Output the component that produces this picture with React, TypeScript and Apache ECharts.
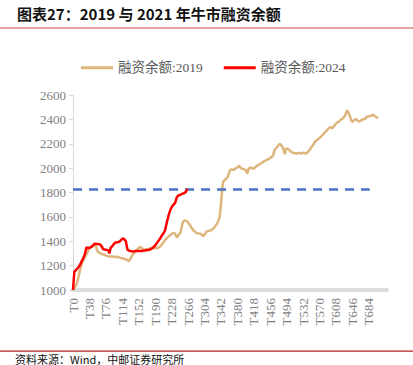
import React, { useEffect, useRef } from "react";
import * as echarts from "echarts";

const titleText = "图表27：2019 与 2021 年牛市融资余额";
const sourceText = "资料来源：Wind，中邮证券研究所";
const legendNames = ["融资余额:2019", "融资余额:2024"];

const xTickLabels = [
  "T0", "T38", "T76", "T114", "T152", "T190", "T228", "T266", "T304", "T342",
  "T380", "T418", "T456", "T494", "T532", "T570", "T608", "T646", "T684",
];
const xStep = 38;
const xMax = 726;

const yTicks = [1000, 1200, 1400, 1600, 1800, 2000, 2200, 2400, 2600];

const refLevel = 1825;
const refRange = [0, 686];

const series2019: [number, number][] = [
  [0, 1000], [4, 1020], [8, 1045], [13, 1110], [16, 1160], [19, 1200], [23, 1240],
  [28, 1270], [32, 1300], [36, 1330], [42, 1355], [47, 1365], [51, 1375], [54, 1345],
  [57, 1315], [62, 1305], [66, 1295], [72, 1290], [78, 1280], [85, 1275], [92, 1275],
  [97, 1270], [103, 1272], [108, 1265], [114, 1260], [119, 1255], [124, 1250],
  [129, 1235], [133, 1260], [137, 1285], [143, 1310], [148, 1330], [152, 1345],
  [156, 1355], [160, 1340], [166, 1330], [172, 1335], [178, 1340], [184, 1345],
  [190, 1342], [196, 1345], [201, 1355], [206, 1375], [210, 1395], [213, 1410],
  [218, 1430], [223, 1445], [228, 1460], [232, 1470], [236, 1462], [240, 1430],
  [245, 1455], [249, 1478], [252, 1530], [255, 1565], [260, 1570], [265, 1560],
  [269, 1540], [274, 1510], [278, 1490], [283, 1475], [288, 1465], [294, 1462],
  [298, 1455], [301, 1440], [305, 1460], [309, 1480], [314, 1485], [320, 1492],
  [326, 1510], [332, 1540], [336, 1565], [339, 1600], [341, 1660], [343, 1740],
  [345, 1830], [347, 1885], [351, 1905], [355, 1915], [358, 1930], [361, 1965],
  [364, 1985], [367, 1990], [371, 1985], [375, 1995], [380, 2005], [384, 2020],
  [388, 2000], [392, 1995], [396, 1990], [400, 1980], [403, 1955], [406, 1995],
  [410, 2005], [414, 2000], [418, 1995], [422, 2010], [426, 2020], [430, 2030],
  [435, 2040], [440, 2053], [444, 2060], [448, 2067], [452, 2075], [455, 2081],
  [459, 2090], [463, 2105], [466, 2150], [470, 2165], [474, 2182], [478, 2200],
  [481, 2190], [485, 2170], [488, 2130], [490, 2115], [492, 2160], [496, 2160],
  [500, 2150], [505, 2130], [510, 2125], [517, 2120], [523, 2125], [529, 2120],
  [533, 2128], [538, 2118], [544, 2135], [548, 2155], [552, 2175], [556, 2195],
  [559, 2215], [564, 2230], [571, 2250], [575, 2265], [578, 2277], [583, 2295],
  [588, 2313], [592, 2330], [596, 2335], [600, 2325], [603, 2345], [607, 2360],
  [611, 2375], [615, 2381], [619, 2398], [623, 2405], [627, 2420], [630, 2440],
  [634, 2475], [637, 2455], [640, 2430], [643, 2395], [646, 2380], [650, 2395],
  [654, 2403], [658, 2390], [663, 2382], [667, 2395], [671, 2400], [675, 2405],
  [680, 2422], [685, 2425], [690, 2432], [694, 2436], [698, 2428], [702, 2418],
  [705, 2409],
];

const series2024: [number, number][] = [
  [0, 1000], [3, 1150], [6, 1160], [12, 1185], [16, 1205], [20, 1235], [24, 1262],
  [28, 1300], [31, 1350], [35, 1345], [40, 1348], [45, 1360], [50, 1380], [55, 1378],
  [62, 1375], [66, 1360], [70, 1334], [76, 1330], [82, 1325], [84, 1300], [87, 1345],
  [92, 1365], [97, 1388], [102, 1392], [107, 1396], [111, 1410], [115, 1424],
  [119, 1415], [122, 1402], [126, 1330], [132, 1320], [139, 1316], [145, 1320],
  [152, 1320], [159, 1320], [166, 1325], [172, 1328], [177, 1330], [184, 1345],
  [190, 1365], [196, 1395], [201, 1420], [206, 1450], [210, 1470], [213, 1490],
  [216, 1540], [218, 1570], [222, 1625], [226, 1665], [230, 1690], [236, 1715],
  [240, 1760], [244, 1778], [248, 1780], [253, 1790], [257, 1795], [261, 1805],
  [264, 1830],
];

const serif = "'Liberation Serif', 'Noto Sans CJK SC', serif";

export default function App() {
  const ref = useRef<HTMLDivElement>(null);
  useEffect(() => {
    if (!ref.current) return;
    const chart = echarts.init(ref.current, undefined, { renderer: "svg" });
    chart.setOption({
      animation: false,
      backgroundColor: "#ffffff",
      graphic: [
        {
          type: "text",
          left: 17,
          top: 6,
          style: {
            text: titleText,
            fontSize: 15,
            fontWeight: "bold",
            fill: "#111111",
            fontFamily: "'Noto Sans CJK SC', sans-serif",
          },
        },
        {
          type: "rect",
          shape: { x: 0, y: 27, width: 413, height: 2 },
          style: { fill: "#E9A0A0" },
        },
        {
          type: "rect",
          shape: { x: 0, y: 350.5, width: 413, height: 1.2 },
          style: { fill: "#B22222" },
        },
        {
          type: "text",
          left: 15,
          top: 353,
          style: {
            text: sourceText,
            fontSize: 11,
            fill: "#111111",
            fontFamily: "'Noto Sans CJK SC', sans-serif",
          },
        },
      ],
      legend: {
        data: legendNames,
        left: 76,
        top: 56,
        icon: "rect",
        itemWidth: 32,
        itemHeight: 3,
        itemGap: 21,
        textStyle: { fontSize: 13.5, color: "#595959", fontFamily: serif },
      },
      grid: { left: 73, right: 26, top: 95, bottom: 75, containLabel: false },
      xAxis: {
        type: "value",
        min: 0,
        max: xMax,
        interval: xStep,
        axisLine: { show: true, lineStyle: { color: "#dcdcdc", width: 4 } },
        axisTick: { show: false },
        splitLine: { show: false },
        axisLabel: {
          rotate: 90,
          margin: 8,
          fontSize: 13,
          color: "#808080",
          fontFamily: serif,
          showMaxLabel: false,
          formatter: (v: number) => {
            const k = Math.round(v / xStep);
            return v % xStep === 0 && xTickLabels[k] ? xTickLabels[k] : "";
          },
        },
      },
      yAxis: {
        type: "value",
        min: yTicks[0],
        max: yTicks[yTicks.length - 1],
        interval: 200,
        axisLine: { show: true, lineStyle: { color: "#d9d9d9", width: 1 } },
        axisTick: { show: true, length: 4, lineStyle: { color: "#d9d9d9" } },
        splitLine: { show: false },
        axisLabel: {
          margin: 7,
          fontSize: 13,
          color: "#808080",
          fontFamily: serif,
          formatter: (v: number) => String(v),
        },
      },
      series: [
        {
          name: legendNames[0],
          type: "line",
          data: series2019,
          symbol: "none",
          lineStyle: { color: "#DEB57C", width: 2.5 },
          itemStyle: { color: "#DEB57C" },
          z: 2,
        },
        {
          name: "ref",
          type: "line",
          data: [
            [refRange[0], refLevel],
            [refRange[1], refLevel],
          ],
          symbol: "none",
          lineStyle: { color: "#4472C4", width: 2.5, type: [9, 7] },
          itemStyle: { color: "#4472C4" },
          z: 3,
        },
        {
          name: legendNames[1],
          type: "line",
          data: series2024,
          symbol: "none",
          lineStyle: { color: "#FF0000", width: 2.5 },
          itemStyle: { color: "#FF0000" },
          z: 4,
        },
      ],
    });
    return () => chart.dispose();
  }, []);
  return (
    <div
      ref={ref}
      style={{ position: "absolute", left: 0, top: 0, width: 413, height: 365 }}
    />
  );
}
